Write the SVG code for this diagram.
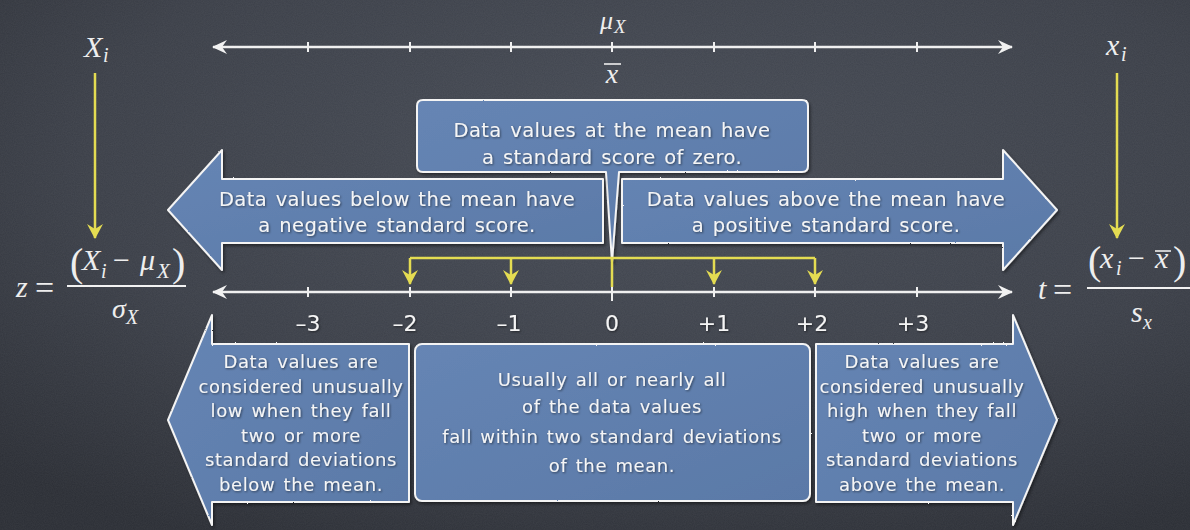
<svg xmlns="http://www.w3.org/2000/svg" width="1190" height="530" viewBox="0 0 1190 530">
<defs>
<radialGradient id="bg" cx="0.55" cy="0.3" r="0.8">
<stop offset="0" stop-color="#464b55"/>
<stop offset="0.6" stop-color="#3b3f48"/>
<stop offset="1" stop-color="#2b2e35"/>
</radialGradient>
<linearGradient id="boxfill" x1="0" y1="0" x2="1" y2="1">
<stop offset="0" stop-color="#6685b4"/>
<stop offset="1" stop-color="#5a79a7"/>
</linearGradient>
<filter id="noise" x="0" y="0" width="100%" height="100%">
<feTurbulence type="fractalNoise" baseFrequency="0.9" numOctaves="2" seed="3"/>
<feColorMatrix type="matrix" values="0 0 0 0 1  0 0 0 0 1  0 0 0 0 1  0 0 0 0.06 0"/>
</filter>
<filter id="chalk" x="-5%" y="-5%" width="110%" height="110%">
<feTurbulence type="fractalNoise" baseFrequency="0.6" numOctaves="2" seed="7" result="t"/>
<feDisplacementMap in="SourceGraphic" in2="t" scale="1.6" xChannelSelector="R" yChannelSelector="G" result="d"/>
<feDropShadow in="d" dx="1.5" dy="2" stdDeviation="1.5" flood-color="#000" flood-opacity="0.45"/>
</filter>
<filter id="tshadow" x="-5%" y="-20%" width="110%" height="140%">
<feDropShadow dx="1" dy="1" stdDeviation="1" flood-color="#000" flood-opacity="0.5"/>
</filter>
<marker id="wa" viewBox="-16 -8 18 16" refX="0" refY="0" markerWidth="18" markerHeight="16" markerUnits="userSpaceOnUse" orient="auto-start-reverse">
<path d="M1,0 L-14,-7 L-9,0 L-14,7 Z" fill="#f2f2f2"/>
</marker>
<marker id="ya" viewBox="-16 -9 18 18" refX="0" refY="0" markerWidth="18" markerHeight="18" markerUnits="userSpaceOnUse" orient="auto">
<path d="M1,0 L-14,-8 L-9,0 L-14,8 Z" fill="#e4dc52"/>
</marker>
<style>
.ax{stroke:#f0f0f0;stroke-width:2.5;fill:none}
.tk{stroke:#f0f0f0;stroke-width:2;fill:none}
.yl{stroke:#e4dc52;stroke-width:2.5;fill:none}
.shape{fill:url(#boxfill);stroke:#f4f4f4;stroke-width:2;stroke-linejoin:round;filter:url(#chalk)}
.lbl{font-family:"DejaVu Sans",sans-serif;fill:#f5f5f5;text-anchor:middle;filter:url(#tshadow)}
.big{font-size:19.5px;letter-spacing:0.4px;word-spacing:2px}
.small{font-size:18px;letter-spacing:0.6px;word-spacing:2px}
.num{font-family:"DejaVu Sans",sans-serif;font-size:22px;fill:#f5f5f5;text-anchor:middle;filter:url(#tshadow)}
.m{font-family:"Liberation Serif",serif;fill:#eeeeee}
.mi{font-family:"Liberation Serif",serif;font-style:italic;fill:#eeeeee}
</style>
</defs>
<rect width="1190" height="530" fill="url(#bg)"/>
<rect width="1190" height="530" filter="url(#noise)"/>

<!-- nodes -->
<g id="callout-mean">
<path class="shape" d="M423,100 H802 Q808,100 808,106 V166 Q808,172 802,172 H619 L612,262 L606,172 H423 Q417,172 417,166 V106 Q417,100 423,100 Z"/>
<text class="lbl big" x="612" y="137">Data values at the mean have</text>
<text class="lbl big" x="612" y="164">a standard score of zero.</text>
</g>
<g id="arrow-negative">
<path class="shape" d="M603,179 H222 V150 L168,210 L222,270 V243 H603 Z"/>
<text class="lbl big" x="397" y="206">Data values below the mean have</text>
<text class="lbl big" x="397" y="232">a negative standard score.</text>
</g>
<g id="arrow-positive">
<path class="shape" d="M622,179 H1003 V150 L1057,210 L1003,270 V243 H622 Z"/>
<text class="lbl big" x="826" y="206">Data values above the mean have</text>
<text class="lbl big" x="826" y="232">a positive standard score.</text>
</g>
<g id="box-low">
<path class="shape" d="M409,344 H212 V315 L168,420 L212,525 V502 H409 Z"/>
<text class="lbl small" x="301" y="368">Data values are</text>
<text class="lbl small" x="301" y="393">considered unusually</text>
<text class="lbl small" x="301" y="417">low when they fall</text>
<text class="lbl small" x="301" y="442">two or more</text>
<text class="lbl small" x="301" y="466">standard deviations</text>
<text class="lbl small" x="301" y="491">below the mean.</text>
</g>
<g id="box-middle">
<rect class="shape" x="415" y="344" width="395" height="157" rx="7"/>
<text class="lbl small" x="612" y="386">Usually all or nearly all</text>
<text class="lbl small" x="612" y="413">of the data values</text>
<text class="lbl small" x="612" y="443">fall within two standard deviations</text>
<text class="lbl small" x="612" y="472">of the mean.</text>
</g>
<g id="box-high">
<path class="shape" d="M816,344 H1013 V315 L1057,420 L1013,525 V502 H816 Z"/>
<text class="lbl small" x="922" y="368">Data values are</text>
<text class="lbl small" x="922" y="393">considered unusually</text>
<text class="lbl small" x="922" y="417">high when they fall</text>
<text class="lbl small" x="922" y="442">two or more</text>
<text class="lbl small" x="922" y="466">standard deviations</text>
<text class="lbl small" x="922" y="491">above the mean.</text>
</g>

<!-- connectors -->
<g id="connectors">
<line class="ax" x1="213" y1="47" x2="1012" y2="47" marker-start="url(#wa)" marker-end="url(#wa)"/>
<path class="tk" d="M308,42V52 M410,42V52 M511,42V52 M612,42V52 M714,42V52 M815,42V52 M917,42V52"/>
<line class="ax" x1="213" y1="292" x2="1012" y2="292" marker-start="url(#wa)" marker-end="url(#wa)"/>
<path class="tk" d="M308,287V297 M410,287V297 M511,287V297 M612,287V301 M714,287V297 M815,287V297 M917,287V297"/>
<path class="yl" d="M95,73 V238" marker-end="url(#ya)"/>
<path class="yl" d="M1117,73 V238" marker-end="url(#ya)"/>
<path class="yl" d="M410,258 H815"/>
<path class="yl" d="M612,258 V287" stroke-width="3.5"/>
<path class="yl" d="M410,258 V284" marker-end="url(#ya)"/>
<path class="yl" d="M511,258 V284" marker-end="url(#ya)"/>
<path class="yl" d="M714,258 V284" marker-end="url(#ya)"/>
<path class="yl" d="M815,258 V284" marker-end="url(#ya)"/>
</g>

<!-- axis numbers -->
<g id="axis-labels">
<text class="num" x="308" y="331">–3</text>
<text class="num" x="405" y="331">–2</text>
<text class="num" x="509" y="331">–1</text>
<text class="num" x="612" y="331">0</text>
<text class="num" x="714" y="331">+1</text>
<text class="num" x="812" y="331">+2</text>
<text class="num" x="913" y="331">+3</text>
</g>

<!-- math labels -->
<g id="label-Xi">
<text class="mi" x="84" y="57" font-size="30">X</text>
<text class="mi" x="103" y="62" font-size="20">i</text>
</g>
<g id="label-xi">
<text class="mi" x="1106" y="55" font-size="30">x</text>
<text class="mi" x="1121" y="61" font-size="20">i</text>
</g>
<g id="label-mu">
<text class="mi" x="600" y="29" font-size="26">μ</text>
<text class="mi" x="614" y="33" font-size="19">X</text>
</g>
<g id="label-xbar">
<text class="mi" x="612" y="83" font-size="28" text-anchor="middle">x</text>
<line x1="604" y1="64" x2="621" y2="64" stroke="#eeeeee" stroke-width="1.6"/>
</g>
<g id="formula-z">
<text class="mi" x="16" y="297" font-size="30">z</text>
<text class="m" x="35" y="299" font-size="34">=</text>
<line x1="67" y1="286" x2="186" y2="286" stroke="#f2f2f2" stroke-width="2"/>
<text class="m" x="70" y="276" font-size="40">(</text>
<text class="mi" x="82" y="270" font-size="30">X</text>
<text class="mi" x="101" y="278" font-size="20">i</text>
<text class="m" x="113" y="270" font-size="30">−</text>
<text class="mi" x="140" y="270" font-size="30">μ</text>
<text class="mi" x="157" y="278" font-size="21">X</text>
<text class="m" x="172" y="276" font-size="40">)</text>
<text class="mi" x="112" y="318" font-size="28">σ</text>
<text class="mi" x="126" y="324" font-size="20">X</text>
</g>
<g id="formula-t">
<text class="mi" x="1038" y="299" font-size="30">t</text>
<text class="m" x="1053" y="301" font-size="34">=</text>
<line x1="1087" y1="288" x2="1190" y2="288" stroke="#f2f2f2" stroke-width="2"/>
<text class="m" x="1088" y="274" font-size="40">(</text>
<text class="mi" x="1100" y="268" font-size="30">x</text>
<text class="mi" x="1116" y="275" font-size="20">i</text>
<text class="m" x="1128" y="268" font-size="30">−</text>
<text class="mi" x="1155" y="268" font-size="30">x</text>
<line x1="1155" y1="251" x2="1171" y2="251" stroke="#eeeeee" stroke-width="1.6"/>
<text class="m" x="1173" y="274" font-size="40">)</text>
<text class="mi" x="1131" y="322" font-size="30">s</text>
<text class="mi" x="1143" y="329" font-size="20">x</text>
</g>
</svg>
